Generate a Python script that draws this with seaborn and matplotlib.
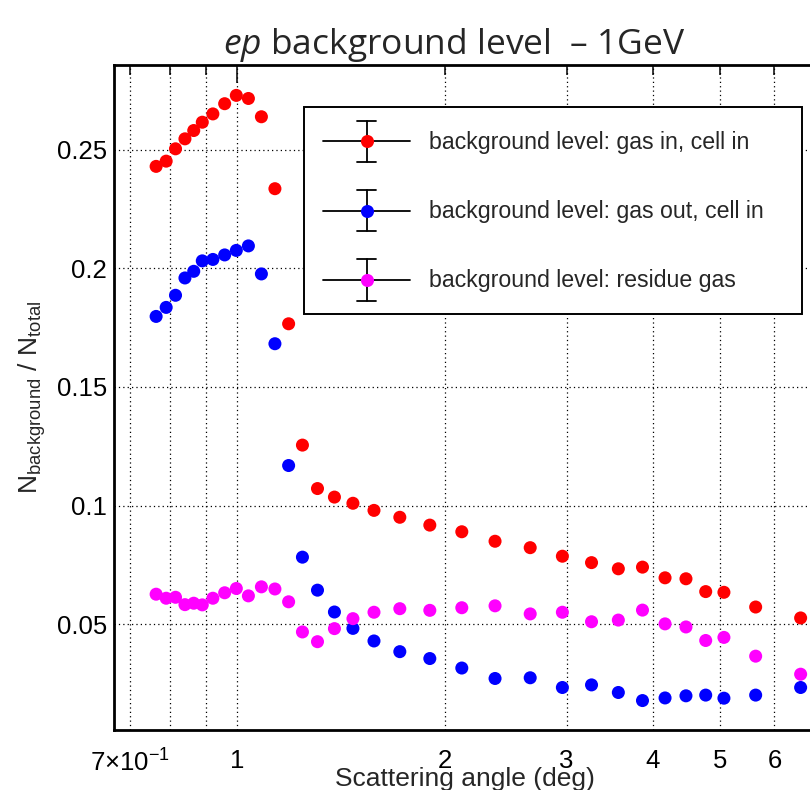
import numpy as np
import pandas as pd
import matplotlib
matplotlib.use("Agg")
import matplotlib.pyplot as plt
import seaborn as sns
from matplotlib.legend_handler import HandlerBase
from matplotlib.lines import Line2D
from matplotlib.ticker import FixedLocator, FixedFormatter

# ---------------- data ----------------
angle = [0.763, 0.789, 0.814, 0.840, 0.865, 0.890, 0.922, 0.959, 0.997, 1.038,
         1.084, 1.134, 1.187, 1.243, 1.307, 1.383, 1.471, 1.578, 1.720, 1.901,
         2.115, 2.363, 2.657, 2.958, 3.26, 3.565, 3.864, 4.166, 4.467, 4.771,
         5.07, 5.636, 6.548]
gas_in_cell_in = [0.2429, 0.2451, 0.2503, 0.2545, 0.2580, 0.2615, 0.2650, 0.2693,
                  0.2728, 0.2715, 0.2638, 0.2335, 0.1766, 0.1255, 0.1072, 0.1036,
                  0.1010, 0.0980, 0.0951, 0.0918, 0.0890, 0.0850, 0.0823, 0.0787,
                  0.0760, 0.0734, 0.0741, 0.0696, 0.0692, 0.0638, 0.0635, 0.0573,
                  0.0527]
gas_out_cell_in = [0.1797, 0.1835, 0.1886, 0.1959, 0.1987, 0.2031, 0.2037, 0.2056,
                   0.2075, 0.2094, 0.1976, 0.1682, 0.1169, 0.0783, 0.0644, 0.0552,
                   0.0483, 0.0430, 0.0385, 0.0356, 0.0316, 0.0272, 0.0275, 0.0234,
                   0.0245, 0.0213, 0.0179, 0.0190, 0.0199, 0.0202, 0.0189, 0.0202,
                   0.0234]
residue_gas = [0.0627, 0.0610, 0.0614, 0.0583, 0.0589, 0.0582, 0.0610, 0.0633,
               0.0651, 0.0620, 0.0658, 0.0649, 0.0595, 0.0468, 0.0427, 0.0482,
               0.0524, 0.0551, 0.0566, 0.0559, 0.0570, 0.0578, 0.0544, 0.0551,
               0.0511, 0.0518, 0.0560, 0.0502, 0.0489, 0.0432, 0.0445, 0.0366,
               0.0290]
series_labels = ["background level: gas in, cell in",
                 "background level: gas out, cell in",
                 "background level: residue gas"]
series_colors = ["#ff0000", "#0000ff", "#ff00ff"]

y_ticks = [0.05, 0.1, 0.15, 0.2, 0.25]
y_ticklabels = ["0.05", "0.1", "0.15", "0.2", "0.25"]
x_major = [1]
x_major_labels = ["1"]
x_minor = [0.7, 0.8, 0.9, 2, 3, 4, 5, 6]
x_minor_labels = [r"7$\times$10$^{-1}$", "", "", "2", "3", "4", "5", "6"]

df = pd.DataFrame({
    "angle": angle * 3,
    "ratio": gas_in_cell_in + gas_out_cell_in + residue_gas,
    "series": [series_labels[0]] * len(angle) + [series_labels[1]] * len(angle)
              + [series_labels[2]] * len(angle),
})

# ---------------- style ----------------
sns.set_theme(style="white")
plt.rcParams["font.family"] = ["Liberation Sans", "DejaVu Sans"]
plt.rcParams["mathtext.fontset"] = "custom"
plt.rcParams["mathtext.rm"] = "Liberation Sans"
plt.rcParams["mathtext.it"] = "Open Sans:italic"
plt.rcParams["mathtext.default"] = "rm"

W, H = 810, 790
fig = plt.figure(figsize=(W / 100, H / 100), dpi=100)
ax_left, ax_right, ax_top, ax_bottom = 114, 820, 65, 730
ax = fig.add_axes([ax_left / W, 1 - ax_bottom / H,
                   (ax_right - ax_left) / W, (ax_bottom - ax_top) / H])

sns.scatterplot(data=df, x="angle", y="ratio", hue="series",
                palette=dict(zip(series_labels, series_colors)),
                s=88, edgecolor="none", linewidth=0, legend=False,
                ax=ax, zorder=3)

ax.set_xscale("log")
ax.set_xlim(0.663, 6.985)
ax.set_ylim(0.0055, 0.2856)

# x ticks
ax.xaxis.set_major_locator(FixedLocator(x_major))
ax.xaxis.set_major_formatter(FixedFormatter(x_major_labels))
ax.xaxis.set_minor_locator(FixedLocator(x_minor))
ax.xaxis.set_minor_formatter(FixedFormatter(x_minor_labels))
# y ticks
ax.set_yticks(y_ticks)
ax.set_yticklabels(y_ticklabels)
ax.yaxis.set_minor_locator(FixedLocator(np.arange(0.01, 0.285, 0.01)))

ax.tick_params(axis="both", which="both", direction="in", colors="black",
               top=True, right=False, labelsize=18.5, width=1.1)
ax.tick_params(axis="x", which="major", length=13, pad=14)
ax.tick_params(axis="x", which="minor", length=7, pad=14)
ax.tick_params(axis="y", which="major", length=15, pad=5)
ax.tick_params(axis="y", which="minor", length=8.5)

ax.grid(True, which="major", axis="both", linestyle=(0, (1, 2.5)),
        color="black", linewidth=0.9)
ax.grid(True, which="minor", axis="x", linestyle=(0, (1, 2.5)),
        color="black", linewidth=0.9)
ax.set_axisbelow(True)

for sp in ax.spines.values():
    sp.set_color("black")
    sp.set_linewidth(2.0)

ax.set_xlabel("")
ax.set_ylabel("")

# axis titles
fig.text(465 / W, 1 - 779 / H, "Scattering angle (deg)", ha="center",
         va="center", fontsize=19)
fig.text(32 / W, 1 - 397 / H,
         r"N$_{\mathrm{background}}$ / N$_{\mathrm{total}}$",
         rotation=90, ha="center", va="center", fontsize=19)

# title
fig.text(454 / W, 1 - 54 / H, r"$\mathit{ep}$ background level  – 1GeV",
         ha="center", va="baseline", fontsize=25.5, family="Open Sans")


# ---------------- legend ----------------
class ErrHandler(HandlerBase):
    def create_artists(self, legend, orig_handle, xdescent, ydescent,
                       width, height, fontsize, trans):
        color = orig_handle.get_color()
        cy = height / 2 - ydescent
        x0 = -xdescent
        cx = x0 + width / 2
        ey, cap = 15.0, 6.5
        arts = [
            Line2D([x0, x0 + width], [cy, cy], color="black", lw=1.3),
            Line2D([cx, cx], [cy - ey, cy + ey], color="black", lw=1.3),
            Line2D([cx - cap, cx + cap], [cy + ey, cy + ey], color="black", lw=1.3),
            Line2D([cx - cap, cx + cap], [cy - ey, cy - ey], color="black", lw=1.3),
            Line2D([cx], [cy], marker="o", markersize=9.4, color=color,
                   markeredgewidth=0, linestyle="none"),
        ]
        for a in arts:
            a.set_transform(trans)
        return arts


handles = [Line2D([], [], color=c, marker="o", linestyle="none")
           for c in series_colors]
lx0, ly0, lx1, ly1 = 304, 107, 802, 313
leg = ax.legend(handles, series_labels,
                handler_map={Line2D: ErrHandler()},
                loc="upper left",
                bbox_to_anchor=(lx0 / W, 1 - ly1 / H, (lx1 - lx0) / W, (ly1 - ly0) / H),
                bbox_transform=fig.transFigure, mode="expand",
                borderaxespad=0, fontsize=16.7, handlelength=3.75,
                handleheight=1.66, handletextpad=0.82, labelspacing=1.66,
                borderpad=0.82,
                frameon=True, fancybox=False, framealpha=1, edgecolor="black")
leg.get_frame().set_linewidth(1.4)
leg.set_zorder(5)

fig.savefig("out.png", dpi=100)
